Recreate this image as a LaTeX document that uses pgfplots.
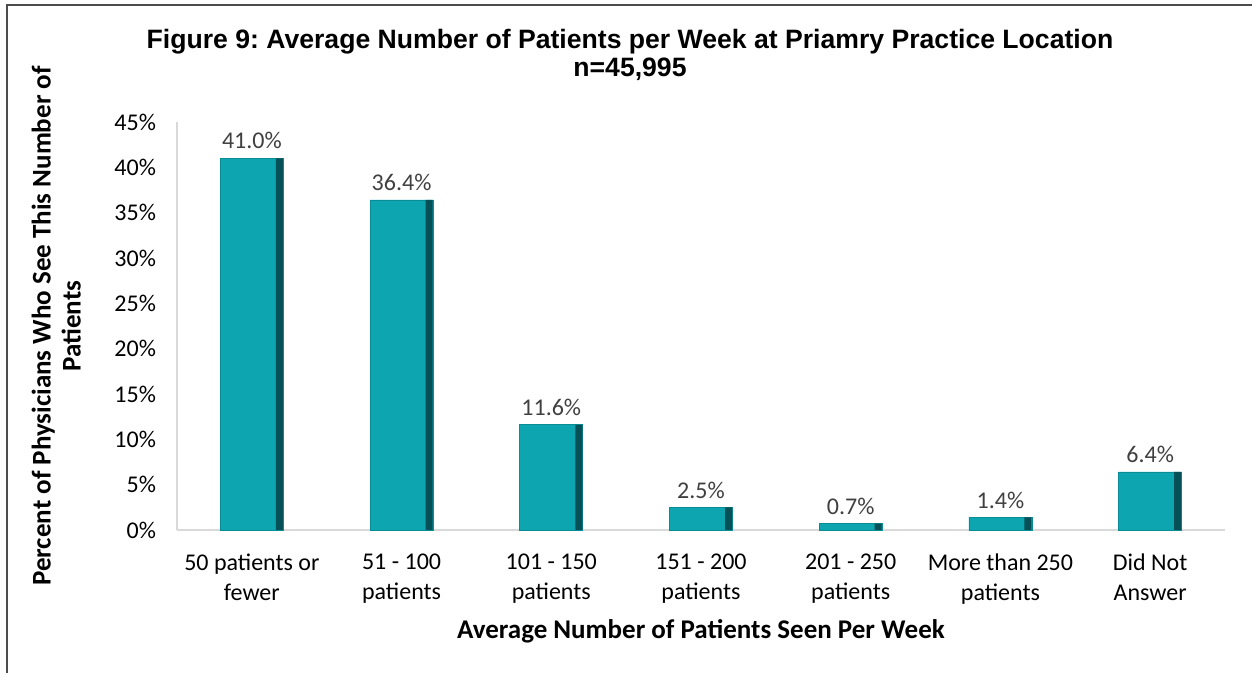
\documentclass[border=0pt]{standalone}
\usepackage{pgfplots}
\pgfplotsset{compat=1.18}
\usepackage{fontspec}
\setmainfont{Carlito}
\newfontfamily\arialfont{Liberation Sans}
\frenchspacing
\definecolor{axgray}{RGB}{217,217,217}
\definecolor{lblgray}{RGB}{64,64,64}
\definecolor{c1}{RGB}{10,140,150}
\definecolor{c2}{RGB}{13,165,176}
\definecolor{c4}{RGB}{6,80,88}
\pgfplotstableread{
x y
0 41.0
1 36.4
2 11.6
3 2.5
4 0.7
5 1.4
6 6.4
}\bardata
\begin{document}
\begin{tikzpicture}[x=1pt,y=1pt]
\path[use as bounding box] (0,0) rectangle (626,336.5);
\draw[color=black!70, line width=0.8pt] (3.5,0) -- (3.5,334) -- (626,334);
\node[font=\arialfont\bfseries\fontsize{13.3}{14}\selectfont, align=center] at (315,309) {Figure 9: Average Number of Patients per Week at Priamry Practice Location\\n=45,995};
\begin{axis}[
  at={(88.5pt,71.5pt)}, anchor=south west,
  scale only axis, width=524pt, height=204pt,
  ymin=0, ymax=45, xmin=-0.5, xmax=6.5,
  ybar, bar width=31.5pt, bar shift=0pt,
  axis lines*=left,
  axis line style={color=axgray, line width=0.8pt},
  tick style={draw=none},
  ytick={0,5,...,45},
  yticklabel={\pgfmathprintnumber{\tick}\%},
  /pgf/number format/assume math mode=true,
  yticklabel style={font=\fontsize{12}{14}\selectfont, xshift=-7pt},
  xtick={0,...,6},
  xticklabels={{50 patients or\\fewer},{51 - 100\\patients},{101 - 150\\patients},{151 - 200\\patients},{201 - 250\\patients},{More than 250\\patients},{Did Not\\Answer}},
  xticklabel style={font=\fontsize{12}{15}\selectfont, align=center, yshift=-4pt},
  xlabel={Average Number of Patients Seen Per Week},
  xlabel style={font=\bfseries\fontsize{13.5}{15}\selectfont, yshift=-1pt},
  ylabel={Percent of Physicians Who See This Number of\\Patients},
  ylabel style={font=\bfseries\fontsize{13.5}{15}\selectfont, align=center, yshift=10pt},
  clip=false,
]
\addplot[fill=c2, draw=c1, line width=0.4pt,
  nodes near coords={\pgfmathprintnumber[fixed,fixed zerofill,precision=1]{\pgfplotspointmeta}\%},
  nodes near coords style={font=\fontsize{12}{14}\selectfont, color=lblgray, yshift=1pt}]
  table[x=x,y=y] {\bardata};
\addplot[fill=c4, draw=none, bar width=3.5pt, bar shift=13.75pt] table[x=x,y=y] {\bardata};
\end{axis}
\end{tikzpicture}
\end{document}
